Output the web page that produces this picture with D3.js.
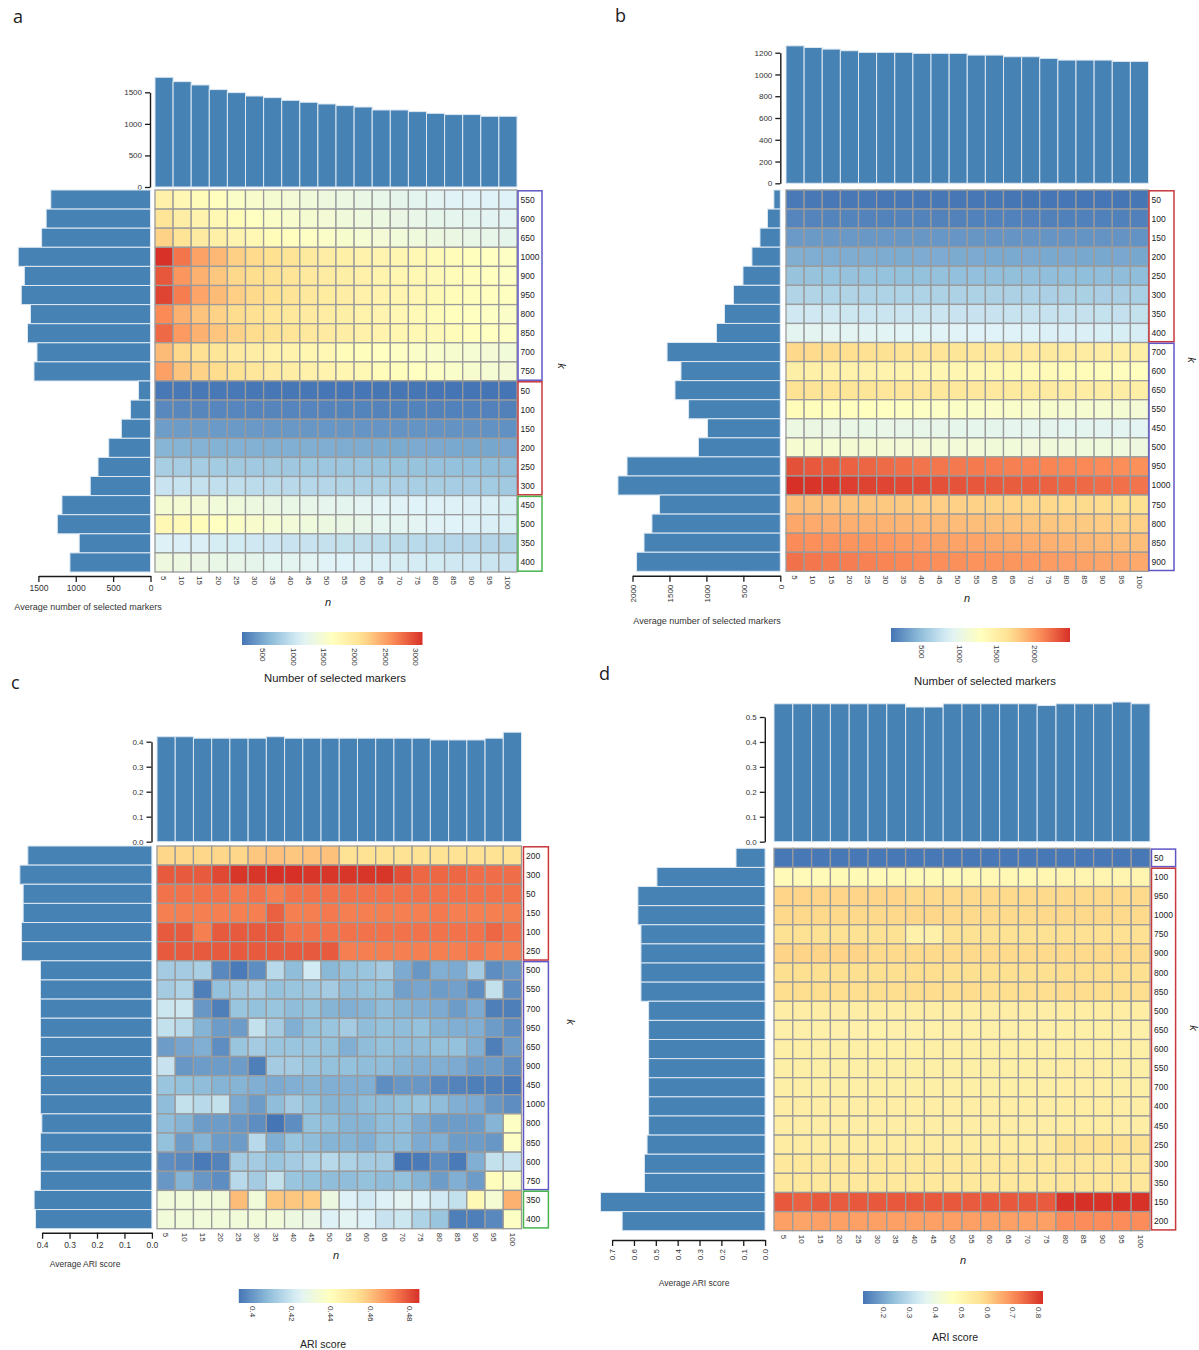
<!DOCTYPE html>
<html>
<head>
<meta charset="utf-8">
<script src="https://cdn.jsdelivr.net/npm/d3@7"></script>
<style>
  body { margin: 0; background: #fff; }
  svg text { font-family: "Liberation Sans Narrow", "Liberation Sans", Arial, sans-serif; }
</style>
</head>
<body>
<svg id="fig" width="1199" height="1350"></svg>
<script>
// ---------- shared: n (number of markers per cluster) ----------
const nValues = [5,10,15,20,25,30,35,40,45,50,55,60,65,70,75,80,85,90,95,100];

// ---------- panel a: number of selected markers ----------
const aRows = ["550","600","650","1000","900","950","800","850","700","750","50","100","150","200","250","300","450","500","350","400"];
const aCells = [
  [1850,1760,1700,1640,1560,1520,1480,1440,1400,1360,1330,1300,1270,1240,1210,1180,1160,1150,1140,1130],
  [2050,1900,1820,1740,1680,1620,1570,1520,1480,1440,1400,1370,1340,1310,1280,1250,1230,1210,1190,1180],
  [2200,2060,1950,1870,1800,1740,1690,1640,1590,1550,1510,1470,1440,1410,1380,1350,1320,1290,1260,1240],
  [3100,2740,2490,2360,2215,2150,2110,2060,1965,1912,1873,1830,1800,1770,1740,1710,1680,1650,1620,1590],
  [2900,2560,2400,2270,2170,2135,2090,2040,1980,1930,1890,1850,1810,1780,1750,1720,1690,1660,1630,1600],
  [3000,2700,2470,2340,2225,2160,2110,2060,1990,1940,1900,1860,1820,1790,1760,1730,1700,1670,1640,1610],
  [2630,2400,2290,2200,2140,2100,2050,2000,1960,1920,1880,1840,1800,1760,1720,1680,1650,1620,1590,1560],
  [2800,2540,2400,2280,2200,2140,2090,2040,1990,1950,1900,1860,1820,1780,1750,1720,1690,1650,1620,1590],
  [2340,2170,2100,2030,1950,1900,1860,1820,1780,1740,1700,1660,1620,1590,1560,1530,1500,1470,1440,1410],
  [2500,2290,2200,2140,2080,2020,1960,1910,1860,1820,1780,1740,1700,1660,1620,1580,1540,1500,1470,1440],
  [180,178,176,175,174,172,170,168,167,166,165,164,163,162,161,160,159,158,158,157],
  [280,275,272,270,268,266,264,262,260,258,256,254,252,250,248,246,244,242,240,238],
  [420,415,410,405,400,396,392,388,384,380,376,372,368,364,360,356,352,348,344,340],
  [580,575,570,565,560,555,550,545,540,535,530,525,520,515,510,505,500,495,490,485],
  [790,780,770,760,750,745,740,735,730,725,720,715,705,700,690,680,670,660,650,640],
  [1000,985,970,955,940,925,910,895,880,865,850,835,820,810,800,790,780,770,760,750],
  [1480,1460,1440,1410,1380,1350,1320,1290,1260,1230,1210,1190,1170,1150,1140,1130,1120,1110,1100,1090],
  [1740,1720,1680,1620,1570,1520,1470,1420,1380,1340,1300,1260,1220,1200,1180,1160,1140,1120,1110,1100],
  [1120,1110,1100,1080,1060,1040,1020,1000,990,970,960,940,930,910,900,890,880,870,860,850],
  [1360,1340,1310,1290,1260,1240,1220,1200,1180,1160,1140,1120,1100,1080,1070,1060,1040,1030,1010,1000]
];
const aTopBars = [1738,1669,1616,1543,1495,1441,1416,1373,1342,1315,1289,1267,1220,1220,1194,1167,1147,1147,1120,1120];
const aSideBars = [1334,1396,1457,1770,1688,1729,1606,1646,1519,1559,160,267,390,559,702,806,1185,1247,954,1078];
const aGroupSizes = [10, 6, 4];
const aGroupKinds = ["blue", "red", "green"];
const aTopTicks = [0, 500, 1000, 1500];
const aSideTicks = [1500, 1000, 500, 0];
const aLegendTicks = [500, 1000, 1500, 2000, 2500, 3000];
const aLegendRange = [157, 3106];

// ---------- panel b: number of selected markers ----------
const bRows = ["50","100","150","200","250","300","350","400","700","600","650","550","450","500","950","1000","750","800","850","900"];
const bCells = [
  [110,108,106,105,104,103,102,101,100,100,99,99,98,98,97,97,96,96,95,95],
  [175,172,170,168,166,165,164,163,162,161,160,159,158,157,156,155,154,153,152,151],
  [290,287,284,281,278,276,274,272,270,268,266,264,262,260,258,256,254,252,250,248],
  [400,397,394,391,388,386,384,382,380,378,376,374,372,370,368,366,364,362,360,358],
  [520,517,514,511,508,506,504,502,500,498,496,494,492,490,488,486,484,482,480,478],
  [650,647,644,641,638,636,634,632,630,628,626,624,622,620,618,616,614,612,610,608],
  [800,796,792,788,784,780,777,774,771,768,765,762,759,756,753,750,747,744,741,738],
  [935,930,925,920,915,910,905,900,895,890,885,880,875,870,865,860,855,850,845,840],
  [1710,1700,1690,1675,1660,1645,1630,1620,1610,1600,1590,1580,1570,1560,1550,1540,1525,1510,1495,1480],
  [1480,1470,1460,1450,1440,1430,1420,1410,1400,1390,1380,1370,1360,1350,1340,1330,1320,1310,1300,1290],
  [1640,1625,1615,1605,1600,1595,1590,1585,1580,1575,1570,1560,1550,1540,1530,1520,1515,1510,1500,1490],
  [1320,1310,1300,1290,1280,1270,1260,1250,1240,1230,1220,1210,1200,1190,1180,1170,1160,1150,1140,1130],
  [1040,1030,1020,1010,1000,995,990,985,980,975,970,965,960,955,950,945,940,935,930,925],
  [1160,1155,1150,1145,1140,1135,1130,1125,1120,1115,1110,1105,1100,1095,1090,1085,1080,1075,1070,1065],
  [2330,2300,2280,2260,2240,2220,2200,2180,2170,2160,2150,2140,2130,2120,2110,2100,2090,2080,2070,2060],
  [2470,2455,2430,2410,2395,2380,2365,2350,2335,2320,2305,2290,2280,2270,2255,2240,2225,2210,2195,2180],
  [1840,1830,1820,1810,1800,1790,1780,1770,1760,1750,1740,1735,1730,1720,1710,1700,1695,1690,1680,1670],
  [1950,1935,1920,1910,1900,1890,1880,1870,1860,1850,1840,1830,1820,1810,1800,1790,1780,1770,1760,1750],
  [2080,2065,2050,2040,2030,2020,2005,1990,1980,1970,1960,1945,1930,1920,1905,1890,1875,1860,1850,1840],
  [2190,2170,2150,2140,2125,2110,2095,2080,2070,2060,2050,2040,2030,2020,2005,1990,1975,1960,1950,1940]
];
const bTopBars = [1263,1248,1233,1218,1203,1203,1203,1194,1194,1194,1178,1178,1163,1163,1148,1132,1132,1132,1120,1120];
const bSideBars = [87,174,275,384,505,634,755,864,1532,1344,1425,1241,985,1108,2074,2197,1634,1737,1844,1945];
const bGroupSizes = [8, 12];
const bGroupKinds = ["red", "blue"];
const bTopTicks = [0, 200, 400, 600, 800, 1000, 1200];
const bSideTicks = [2000, 1500, 1000, 500, 0];
const bLegendTicks = [500, 1000, 1500, 2000];
const bLegendRange = [90, 2470];

// ---------- panel c: ARI score ----------
const cRows = ["200","300","50","150","100","250","500","550","700","950","650","900","450","1000","800","850","600","750","350","400"];
const cCells = [
  [0.456,0.456,0.456,0.456,0.456,0.459,0.460,0.459,0.460,0.460,0.453,0.453,0.453,0.453,0.453,0.453,0.453,0.453,0.453,0.453],
  [0.478,0.478,0.478,0.481,0.484,0.484,0.485,0.485,0.484,0.484,0.484,0.484,0.484,0.480,0.476,0.476,0.476,0.475,0.475,0.475],
  [0.474,0.474,0.474,0.474,0.473,0.474,0.472,0.474,0.474,0.474,0.474,0.474,0.474,0.474,0.474,0.474,0.474,0.474,0.474,0.474],
  [0.472,0.472,0.472,0.472,0.472,0.472,0.477,0.472,0.472,0.473,0.472,0.472,0.472,0.472,0.472,0.473,0.472,0.472,0.472,0.472],
  [0.478,0.478,0.472,0.478,0.478,0.478,0.478,0.474,0.474,0.474,0.474,0.474,0.474,0.474,0.474,0.474,0.474,0.474,0.476,0.474],
  [0.478,0.478,0.478,0.478,0.478,0.478,0.478,0.478,0.478,0.478,0.472,0.472,0.472,0.472,0.472,0.472,0.472,0.473,0.472,0.472],
  [0.412,0.412,0.413,0.397,0.394,0.398,0.416,0.408,0.421,0.407,0.409,0.410,0.412,0.404,0.400,0.405,0.404,0.412,0.398,0.400],
  [0.412,0.414,0.395,0.409,0.411,0.412,0.409,0.410,0.411,0.412,0.408,0.409,0.409,0.402,0.403,0.401,0.402,0.398,0.418,0.398],
  [0.420,0.420,0.400,0.395,0.410,0.409,0.410,0.408,0.409,0.406,0.405,0.406,0.408,0.406,0.405,0.404,0.401,0.404,0.395,0.395],
  [0.418,0.416,0.406,0.401,0.401,0.418,0.412,0.405,0.409,0.410,0.412,0.408,0.409,0.408,0.409,0.406,0.405,0.405,0.401,0.398],
  [0.401,0.403,0.405,0.398,0.410,0.412,0.410,0.410,0.410,0.409,0.405,0.408,0.409,0.408,0.408,0.409,0.409,0.405,0.395,0.401],
  [0.419,0.400,0.401,0.401,0.401,0.395,0.412,0.412,0.410,0.409,0.409,0.408,0.408,0.406,0.405,0.405,0.404,0.401,0.401,0.398],
  [0.410,0.409,0.408,0.406,0.406,0.405,0.404,0.405,0.406,0.405,0.405,0.405,0.398,0.400,0.400,0.397,0.396,0.395,0.395,0.394],
  [0.408,0.418,0.416,0.418,0.404,0.401,0.408,0.412,0.409,0.406,0.406,0.408,0.408,0.409,0.410,0.408,0.405,0.404,0.400,0.398],
  [0.408,0.406,0.401,0.401,0.400,0.398,0.393,0.398,0.409,0.408,0.406,0.406,0.408,0.408,0.404,0.401,0.401,0.401,0.406,0.438],
  [0.409,0.401,0.406,0.401,0.401,0.416,0.405,0.410,0.408,0.406,0.406,0.405,0.408,0.408,0.404,0.405,0.401,0.401,0.400,0.438],
  [0.398,0.397,0.394,0.396,0.412,0.412,0.410,0.412,0.414,0.416,0.414,0.412,0.412,0.393,0.394,0.398,0.394,0.405,0.418,0.419],
  [0.400,0.406,0.400,0.398,0.416,0.412,0.418,0.410,0.409,0.408,0.408,0.409,0.408,0.409,0.406,0.401,0.405,0.401,0.440,0.437],
  [0.432,0.432,0.432,0.432,0.461,0.432,0.459,0.459,0.458,0.430,0.423,0.421,0.423,0.425,0.423,0.421,0.418,0.442,0.434,0.463],
  [0.432,0.432,0.432,0.432,0.432,0.432,0.432,0.430,0.429,0.423,0.425,0.423,0.419,0.420,0.414,0.410,0.395,0.395,0.397,0.438]
];
const cTopBars = [0.420,0.420,0.414,0.414,0.414,0.414,0.420,0.414,0.414,0.414,0.414,0.414,0.414,0.414,0.414,0.407,0.407,0.407,0.414,0.438];
const cSideBars = [0.452,0.481,0.469,0.469,0.475,0.475,0.406,0.406,0.406,0.406,0.406,0.406,0.406,0.406,0.401,0.406,0.406,0.406,0.429,0.424];
const cGroupSizes = [6, 12, 2];
const cGroupKinds = ["red", "blue", "green"];
const cTopTicks = [0, 0.1, 0.2, 0.3, 0.4];
const cSideTicks = [0.4, 0.3, 0.2, 0.1, 0];
const cLegendTicks = [0.40, 0.42, 0.44, 0.46, 0.48];
const cLegendRange = [0.393, 0.485];

// ---------- panel d: ARI score ----------
const dRows = ["50","100","950","1000","750","900","800","850","500","650","600","550","700","400","450","250","300","350","150","200"];
const dCells = [
  [0.125,0.125,0.125,0.125,0.125,0.125,0.125,0.125,0.125,0.125,0.125,0.125,0.125,0.125,0.125,0.125,0.125,0.125,0.125,0.125],
  [0.488,0.488,0.488,0.490,0.490,0.488,0.490,0.490,0.490,0.490,0.492,0.492,0.494,0.494,0.500,0.505,0.505,0.505,0.505,0.505],
  [0.598,0.598,0.598,0.598,0.598,0.598,0.598,0.592,0.592,0.592,0.592,0.592,0.592,0.592,0.592,0.592,0.592,0.592,0.592,0.592],
  [0.594,0.594,0.594,0.594,0.594,0.594,0.594,0.596,0.596,0.594,0.592,0.592,0.592,0.592,0.594,0.594,0.594,0.594,0.592,0.592],
  [0.575,0.575,0.575,0.575,0.575,0.575,0.575,0.520,0.522,0.575,0.575,0.575,0.575,0.575,0.575,0.578,0.578,0.578,0.578,0.578],
  [0.600,0.600,0.600,0.600,0.600,0.592,0.592,0.592,0.592,0.592,0.592,0.592,0.592,0.592,0.592,0.592,0.592,0.592,0.592,0.592],
  [0.582,0.582,0.582,0.582,0.582,0.582,0.582,0.585,0.585,0.582,0.582,0.582,0.582,0.582,0.582,0.585,0.585,0.585,0.585,0.582],
  [0.585,0.585,0.585,0.585,0.585,0.585,0.585,0.588,0.588,0.585,0.588,0.585,0.585,0.585,0.585,0.588,0.588,0.585,0.585,0.585],
  [0.534,0.534,0.534,0.534,0.534,0.534,0.534,0.534,0.534,0.534,0.534,0.534,0.534,0.534,0.534,0.536,0.536,0.536,0.536,0.536],
  [0.522,0.522,0.522,0.518,0.518,0.516,0.518,0.518,0.520,0.522,0.522,0.522,0.522,0.522,0.522,0.524,0.524,0.524,0.522,0.522],
  [0.526,0.526,0.526,0.526,0.526,0.524,0.524,0.524,0.526,0.526,0.526,0.526,0.526,0.526,0.526,0.528,0.528,0.528,0.526,0.526],
  [0.528,0.528,0.528,0.528,0.528,0.528,0.528,0.528,0.528,0.528,0.528,0.528,0.528,0.528,0.528,0.530,0.530,0.530,0.528,0.528],
  [0.528,0.528,0.528,0.528,0.528,0.528,0.528,0.528,0.528,0.526,0.528,0.528,0.528,0.528,0.528,0.530,0.530,0.530,0.528,0.528],
  [0.534,0.534,0.534,0.534,0.534,0.534,0.534,0.534,0.534,0.534,0.534,0.534,0.534,0.534,0.534,0.536,0.536,0.536,0.534,0.534],
  [0.534,0.534,0.534,0.534,0.534,0.534,0.534,0.534,0.534,0.534,0.534,0.534,0.534,0.534,0.534,0.536,0.536,0.536,0.534,0.534],
  [0.540,0.540,0.540,0.540,0.540,0.540,0.540,0.540,0.540,0.540,0.540,0.540,0.540,0.540,0.542,0.575,0.578,0.580,0.578,0.575],
  [0.555,0.555,0.555,0.555,0.555,0.555,0.555,0.555,0.555,0.555,0.555,0.555,0.555,0.555,0.555,0.558,0.558,0.558,0.556,0.556],
  [0.555,0.555,0.555,0.555,0.555,0.555,0.555,0.555,0.555,0.555,0.555,0.555,0.555,0.555,0.555,0.558,0.558,0.558,0.556,0.556],
  [0.765,0.755,0.765,0.762,0.765,0.765,0.765,0.765,0.765,0.765,0.762,0.765,0.765,0.765,0.762,0.812,0.815,0.812,0.815,0.812],
  [0.672,0.665,0.672,0.672,0.672,0.672,0.672,0.672,0.672,0.672,0.672,0.672,0.672,0.672,0.672,0.700,0.700,0.700,0.700,0.700]
];
const dTopBars = [0.553,0.553,0.553,0.553,0.553,0.553,0.553,0.540,0.540,0.553,0.553,0.553,0.553,0.553,0.546,0.553,0.553,0.553,0.560,0.553];
const dSideBars = [0.133,0.495,0.582,0.582,0.568,0.568,0.568,0.568,0.533,0.533,0.533,0.533,0.533,0.533,0.533,0.540,0.552,0.552,0.753,0.654];
const dGroupSizes = [1, 19];
const dGroupKinds = ["blue", "red"];
const dTopTicks = [0, 0.1, 0.2, 0.3, 0.4, 0.5];
const dSideTicks = [0.7, 0.6, 0.5, 0.4, 0.3, 0.2, 0.1, 0];
const dLegendTicks = [0.2, 0.3, 0.4, 0.5, 0.6, 0.7, 0.8];
const dLegendRange = [0.12, 0.815];

// ---------- styling ----------
const palette = ["#4575b4","#91bfdb","#e0f3f8","#ffffbf","#fee090","#fc8d59","#d73027"];
const groupColor = { blue: "#5f58c4", red: "#c9383b", green: "#47b44d" };
const barFill = "#4682b4";
const barEdge = "#dde8f2";
const cellEdge = "#9b9b9b";
const inkColor = "#333";

const svg = d3.select("#fig");

function styleAxis(sel) {
  sel.select(".domain").attr("stroke", "#1a1a1a").attr("stroke-width", 1.4);
  sel.selectAll(".tick line").attr("stroke", "#1a1a1a").attr("stroke-width", 1.3);
  sel.selectAll(".tick text").attr("fill", inkColor).style("font-size", "8px");
}

function drawPanel(id, p) {
  const g = svg.append("g").attr("id", "panel-" + id);
  const color = d3.scaleSequential(d3.piecewise(d3.interpolateRgb, palette)).domain(p.legendRange);

  const x = d3.scaleBand().domain(nValues).range([p.heat.x0, p.heat.x1]);
  const y = d3.scaleBand().domain(d3.range(p.rows.length)).range([p.heat.y0, p.heat.y1]);

  // panel letter
  g.append("text").attr("x", p.letter.x).attr("y", p.letter.y)
    .style("font-family", "'Open Sans', 'Noto Sans', sans-serif")
    .style("font-size", "18px").attr("fill", "#222").text(id);

  // heatmap cells
  const cells = [];
  p.cells.forEach((row, i) => row.forEach((v, j) => cells.push({ i, n: nValues[j], v })));
  g.append("g").selectAll("rect").data(cells).join("rect")
    .attr("x", d => x(d.n)).attr("y", d => y(d.i))
    .attr("width", x.bandwidth()).attr("height", y.bandwidth())
    .attr("fill", d => color(d.v))
    .attr("stroke", cellEdge).attr("stroke-width", 1.3);

  // top bars (average over k for each n)
  const yTop = d3.scaleLinear().domain(p.top.domain).range([p.top.base, p.top.end]);
  g.append("g").selectAll("rect").data(p.topBars).join("rect")
    .attr("x", (d, j) => x(nValues[j])).attr("width", x.bandwidth())
    .attr("y", d => yTop(d)).attr("height", d => yTop(0) - yTop(d))
    .attr("fill", barFill).attr("stroke", barEdge).attr("stroke-width", 1);
  g.append("g").attr("transform", `translate(${p.top.axisX},0)`)
    .call(d3.axisLeft(yTop).tickValues(p.top.ticks).tickFormat(d3.format(p.top.fmt)).tickSize(5).tickSizeOuter(0))
    .call(styleAxis);

  // side bars (average over n for each k)
  const xSide = d3.scaleLinear().domain(p.side.domain).range([p.side.zero, p.side.end]);
  g.append("g").selectAll("rect").data(p.sideBars).join("rect")
    .attr("y", (d, i) => y(i)).attr("height", y.bandwidth())
    .attr("x", d => xSide(d)).attr("width", d => xSide(0) - xSide(d))
    .attr("fill", barFill).attr("stroke", barEdge).attr("stroke-width", 1);
  const sideAxis = g.append("g").attr("transform", `translate(0,${p.side.axisY})`)
    .call(d3.axisBottom(xSide).tickValues(p.side.ticks).tickFormat(d3.format(p.side.fmt)).tickSize(6).tickSizeOuter(0))
    .call(styleAxis);
  if (p.side.rotate) {
    sideAxis.selectAll(".tick text")
      .attr("transform", "rotate(-90)").attr("x", -9).attr("y", 0).attr("dy", "0.35em")
      .style("text-anchor", "end");
  } else {
    sideAxis.selectAll(".tick text").attr("y", 9).style("font-size", "8.5px");
  }
  g.append("text").attr("x", p.side.titleX).attr("y", p.side.titleY)
    .attr("text-anchor", "middle").style("font-size", p.side.titleSize).attr("fill", inkColor)
    .text(p.side.title);

  // n tick labels under the heatmap
  g.append("g").selectAll("text").data(nValues).join("text")
    .attr("transform", d => `translate(${x(d) + x.bandwidth() / 2},${p.heat.y1 + 4}) rotate(90)`)
    .attr("dy", "0.35em").attr("text-anchor", "start")
    .style("font-size", "8px").attr("fill", inkColor).text(d => d);

  // k row labels and group boxes
  g.append("g").selectAll("text").data(p.rows).join("text")
    .attr("x", p.box.x0 + 2.5).attr("y", (d, i) => y(i) + y.bandwidth() / 2)
    .attr("dy", "0.35em").style("font-size", "8.5px").attr("fill", "#222").text(d => d);
  let start = 0;
  const boxes = p.groupSizes.map((size, gi) => {
    const b = { from: start, to: start + size - 1, kind: p.groupKinds[gi] };
    start += size;
    return b;
  });
  g.append("g").selectAll("rect").data(boxes).join("rect")
    .attr("x", p.box.x0).attr("width", p.box.x1 - p.box.x0)
    .attr("y", d => y(d.from) + 0.8)
    .attr("height", d => y(d.to) + y.bandwidth() - y(d.from) - 1.6)
    .attr("fill", "none").attr("stroke", d => groupColor[d.kind]).attr("stroke-width", 1.5);

  // axis titles
  g.append("text").attr("x", p.nLabel.x).attr("y", p.nLabel.y).attr("text-anchor", "middle")
    .style("font-size", "11px").style("font-style", "italic").attr("fill", "#222").text("n");
  g.append("text").attr("transform", `translate(${p.kLabel.x},${p.kLabel.y}) rotate(90)`)
    .attr("text-anchor", "middle").attr("dy", "0.35em")
    .style("font-size", "11px").style("font-style", "italic").attr("fill", "#222").text("k");

  // colour legend
  const gradId = "grad-" + id;
  const grad = svg.append("defs").append("linearGradient").attr("id", gradId)
    .attr("x1", "0%").attr("x2", "100%").attr("y1", "0%").attr("y2", "0%");
  const stops = d3.range(0, 1.0001, 0.05);
  grad.selectAll("stop").data(stops).join("stop")
    .attr("offset", d => (d * 100) + "%")
    .attr("stop-color", d => color(p.legendRange[0] + d * (p.legendRange[1] - p.legendRange[0])));
  const lg = p.legend;
  g.append("rect").attr("x", lg.x0).attr("y", lg.y0)
    .attr("width", lg.x1 - lg.x0).attr("height", lg.y1 - lg.y0)
    .attr("fill", `url(#${gradId})`);
  const xLeg = d3.scaleLinear().domain(p.legendRange).range([lg.x0, lg.x1]);
  g.append("g").selectAll("text").data(p.legendTicks).join("text")
    .attr("transform", d => `translate(${xLeg(d)},${lg.y1 + 3}) rotate(90)`)
    .attr("dy", "0.35em").attr("text-anchor", "start")
    .style("font-size", "8px").attr("fill", inkColor).text(d => d3.format("~g")(d));
  g.append("text").attr("x", lg.titleX).attr("y", lg.titleY).attr("text-anchor", "middle")
    .style("font-size", lg.titleSize).attr("fill", "#222").text(lg.title);
}

drawPanel("a", {
  letter: { x: 13, y: 23 },
  rows: aRows, cells: aCells, topBars: aTopBars, sideBars: aSideBars,
  groupSizes: aGroupSizes, groupKinds: aGroupKinds,
  legendRange: aLegendRange, legendTicks: aLegendTicks,
  heat: { x0: 155, x1: 517, y0: 190, y1: 572 },
  top: { axisX: 150, base: 187, end: 92.3, domain: [0, 1500], ticks: aTopTicks, fmt: "d" },
  side: { axisY: 576, zero: 150.5, end: 38.4, domain: [0, 1500], ticks: aSideTicks, fmt: "d", rotate: false,
          title: "Average number of selected markers", titleX: 88, titleY: 610, titleSize: "9px" },
  box: { x0: 518, x1: 542 },
  legend: { x0: 242, x1: 422.5, y0: 632, y1: 645, title: "Number of selected markers", titleX: 335, titleY: 682, titleSize: "11.3px" },
  nLabel: { x: 328, y: 606 }, kLabel: { x: 562, y: 366 }
});

drawPanel("b", {
  letter: { x: 615, y: 22 },
  rows: bRows, cells: bCells, topBars: bTopBars, sideBars: bSideBars,
  groupSizes: bGroupSizes, groupKinds: bGroupKinds,
  legendRange: bLegendRange, legendTicks: bLegendTicks,
  heat: { x0: 786, x1: 1148.5, y0: 190, y1: 571.3 },
  top: { axisX: 780.3, base: 183.3, end: 52.7, domain: [0, 1200], ticks: bTopTicks, fmt: "d" },
  side: { axisY: 575.7, zero: 780.3, end: 632.5, domain: [0, 2000], ticks: bSideTicks, fmt: "d", rotate: true,
          title: "Average number of selected markers", titleX: 707, titleY: 624, titleSize: "9px" },
  box: { x0: 1149, x1: 1174 },
  legend: { x0: 891, x1: 1070, y0: 628, y1: 642, title: "Number of selected markers", titleX: 985, titleY: 685, titleSize: "11.3px" },
  nLabel: { x: 967, y: 602 }, kLabel: { x: 1192, y: 360 }
});

drawPanel("c", {
  letter: { x: 11, y: 689 },
  rows: cRows, cells: cCells, topBars: cTopBars, sideBars: cSideBars,
  groupSizes: cGroupSizes, groupKinds: cGroupKinds,
  legendRange: cLegendRange, legendTicks: cLegendTicks,
  heat: { x0: 157, x1: 521.5, y0: 846, y1: 1228.7 },
  top: { axisX: 151.5, base: 841.7, end: 741.7, domain: [0, 0.4], ticks: cTopTicks, fmt: ".1f" },
  side: { axisY: 1232.7, zero: 151.9, end: 42.1, domain: [0, 0.4], ticks: cSideTicks, fmt: ".1f", rotate: false,
          title: "Average ARI score", titleX: 85, titleY: 1267, titleSize: "8.5px" },
  box: { x0: 523.5, x1: 548.4 },
  legend: { x0: 238.8, x1: 419.4, y0: 1289, y1: 1303, title: "ARI score", titleX: 323, titleY: 1348, titleSize: "10.5px" },
  nLabel: { x: 336, y: 1259 }, kLabel: { x: 571, y: 1022 }
});

drawPanel("d", {
  letter: { x: 599, y: 680 },
  rows: dRows, cells: dCells, topBars: dTopBars, sideBars: dSideBars,
  groupSizes: dGroupSizes, groupKinds: dGroupKinds,
  legendRange: dLegendRange, legendTicks: dLegendTicks,
  heat: { x0: 774, x1: 1150, y0: 848.3, y1: 1230.7 },
  top: { axisX: 764.8, base: 841.7, end: 717, domain: [0, 0.5], ticks: dTopTicks, fmt: ".1f" },
  side: { axisY: 1240, zero: 765.1, end: 612.1, domain: [0, 0.7], ticks: dSideTicks, fmt: ".1f", rotate: true,
          title: "Average ARI score", titleX: 694, titleY: 1286, titleSize: "8.5px" },
  box: { x0: 1151.5, x1: 1175.6 },
  legend: { x0: 863, x1: 1043, y0: 1291, y1: 1304, title: "ARI score", titleX: 955, titleY: 1341, titleSize: "10.5px" },
  nLabel: { x: 963, y: 1264 }, kLabel: { x: 1194, y: 1028 }
});
</script>
</body>
</html>
